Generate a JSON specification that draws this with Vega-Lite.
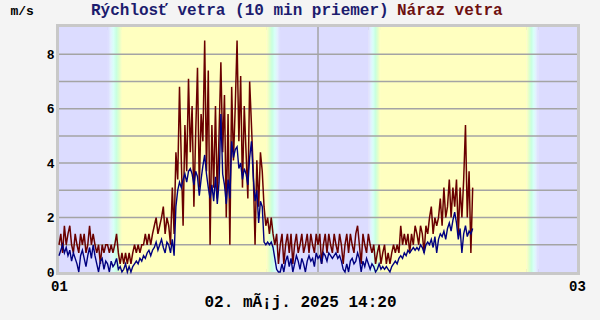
{
"$schema": "https://vega.github.io/schema/vega-lite/v6.json",
"width": 518, "height": 245,
"autosize": {"type": "none"},
"padding": {"left": 59, "top": 27, "right": 23, "bottom": 48},
"background": "#F4F4F4",
"config": {
 "view": {"stroke": "#C8C8C8", "strokeWidth": 6},
 "axis": {"labelFont": "Liberation Mono", "labelFontWeight": "bold", "labelColor": "#000000", "titleFont": "Liberation Mono", "titleFontWeight": "bold", "titleColor": "#000000", "grid": false, "ticks": false, "domain": false, "labelPadding": 5}
},
"datasets": {
"b": [
{"a":0,"b":272,"k":"n"},{"a":350,"b":1155,"k":"d"},{"a":1229,"b":1720,"k":"n"},{"a":1785,"b":2600,"k":"d"},{"a":2665,"b":2880,"k":"n"},
{"a":272,"b":350,"k":"r"},{"a":1720,"b":1785,"k":"r"},{"a":1155,"b":1229,"k":"s"},{"a":2600,"b":2665,"k":"s"}
],
"gr": [{"v":1},{"v":2},{"v":3},{"v":4},{"v":5},{"v":6},{"v":7},{"v":8}],
"vl": [{"t":1440}],
"w": [
{"t":0,"g":1.0,"m":0.6},{"t":10,"g":1.4,"m":0.8},{"t":20,"g":0.7,"m":1.0},{"t":30,"g":1.7,"m":0.7},{"t":40,"g":1.0,"m":0.9},
{"t":50,"g":1.4,"m":0.6},{"t":60,"g":1.7,"m":0.8},{"t":70,"g":1.0,"m":0.4},{"t":80,"g":0.7,"m":0.7},{"t":90,"g":1.4,"m":0.5},
{"t":100,"g":1.0,"m":0.3},{"t":110,"g":0.7,"m":0.0},{"t":120,"g":1.4,"m":0.6},{"t":130,"g":1.0,"m":0.8},{"t":140,"g":1.4,"m":0.5},
{"t":150,"g":0.7,"m":0.2},{"t":160,"g":1.0,"m":0.6},{"t":170,"g":1.7,"m":0.9},{"t":180,"g":1.0,"m":0.5},{"t":190,"g":1.4,"m":1.0},
{"t":200,"g":1.0,"m":0.6},{"t":210,"g":0.7,"m":0.3},{"t":220,"g":1.0,"m":0.0},{"t":230,"g":0.3,"m":0.4},{"t":240,"g":1.0,"m":0.5},
{"t":250,"g":0.7,"m":0.1},{"t":260,"g":1.0,"m":0.4},{"t":270,"g":1.0,"m":0.3},{"t":280,"g":0.7,"m":0.0},{"t":290,"g":1.0,"m":0.4},
{"t":300,"g":0.7,"m":0.2},{"t":310,"g":1.0,"m":0.3},{"t":320,"g":1.4,"m":0.5},{"t":330,"g":0.7,"m":0.1},{"t":340,"g":0.3,"m":0.2},
{"t":350,"g":0.7,"m":0.0},{"t":360,"g":0.3,"m":0.1},{"t":370,"g":0.7,"m":0.3},{"t":380,"g":0.3,"m":0.0},{"t":390,"g":0.7,"m":0.2},
{"t":400,"g":0.3,"m":0.0},{"t":410,"g":0.7,"m":0.2},{"t":420,"g":1.0,"m":0.3},{"t":430,"g":0.7,"m":0.4},{"t":440,"g":1.0,"m":0.3},
{"t":450,"g":0.7,"m":0.5},{"t":460,"g":1.0,"m":0.4},{"t":470,"g":1.0,"m":0.6},{"t":480,"g":1.4,"m":0.5},{"t":490,"g":1.0,"m":0.7},
{"t":500,"g":1.4,"m":0.8},{"t":510,"g":1.0,"m":0.6},{"t":520,"g":1.4,"m":0.8},{"t":530,"g":1.7,"m":0.9},{"t":540,"g":2.0,"m":1.1},
{"t":550,"g":1.4,"m":0.8},{"t":560,"g":1.7,"m":1.0},{"t":570,"g":2.0,"m":1.2},{"t":580,"g":2.4,"m":0.9},{"t":590,"g":1.4,"m":0.7},
{"t":600,"g":2.0,"m":1.1},{"t":610,"g":1.7,"m":1.0},{"t":620,"g":1.0,"m":0.7},{"t":630,"g":3.1,"m":1.2},{"t":640,"g":1.4,"m":0.6},
{"t":650,"g":4.4,"m":2.4},{"t":660,"g":3.4,"m":3.0},{"t":670,"g":6.8,"m":3.3},{"t":680,"g":4.1,"m":3.1},{"t":690,"g":1.7,"m":3.4},
{"t":700,"g":5.4,"m":3.6},{"t":710,"g":3.7,"m":3.3},{"t":720,"g":7.1,"m":3.7},{"t":730,"g":4.4,"m":3.8},{"t":740,"g":6.1,"m":3.6},
{"t":750,"g":2.4,"m":3.2},{"t":760,"g":5.1,"m":3.7},{"t":770,"g":7.5,"m":3.5},{"t":780,"g":3.1,"m":2.8},{"t":790,"g":5.8,"m":3.4},
{"t":800,"g":4.8,"m":3.9},{"t":810,"g":8.5,"m":4.3},{"t":820,"g":3.7,"m":3.6},{"t":830,"g":7.4,"m":3.1},{"t":840,"g":1.0,"m":2.7},
{"t":850,"g":5.4,"m":3.2},{"t":860,"g":3.1,"m":2.6},{"t":870,"g":6.1,"m":3.5},{"t":880,"g":2.7,"m":2.5},{"t":890,"g":5.1,"m":3.3},
{"t":900,"g":7.7,"m":5.8},{"t":910,"g":4.4,"m":3.6},{"t":920,"g":6.5,"m":3.2},{"t":930,"g":2.0,"m":2.5},{"t":940,"g":5.8,"m":3.4},
{"t":950,"g":1.0,"m":2.7},{"t":960,"g":6.8,"m":4.8},{"t":970,"g":4.1,"m":4.2},{"t":980,"g":6.1,"m":4.5},{"t":990,"g":8.5,"m":4.6},
{"t":1000,"g":4.8,"m":3.8},{"t":1010,"g":7.2,"m":4.0},{"t":1020,"g":3.1,"m":3.4},{"t":1030,"g":6.1,"m":3.8},{"t":1040,"g":4.4,"m":3.6},
{"t":1050,"g":2.7,"m":3.2},{"t":1060,"g":7.0,"m":4.2},{"t":1070,"g":5.4,"m":4.8},{"t":1080,"g":3.7,"m":3.5},{"t":1090,"g":1.0,"m":2.6},
{"t":1100,"g":4.1,"m":3.0},{"t":1110,"g":2.4,"m":1.8},{"t":1120,"g":4.4,"m":2.6},{"t":1130,"g":3.7,"m":2.4},{"t":1140,"g":2.4,"m":1.1},
{"t":1150,"g":1.7,"m":1.0},{"t":1160,"g":2.0,"m":1.1},{"t":1170,"g":1.4,"m":1.0},{"t":1180,"g":2.0,"m":1.1},{"t":1190,"g":1.4,"m":0.9},
{"t":1200,"g":1.0,"m":0.5},{"t":1210,"g":1.4,"m":0.1},{"t":1220,"g":0.3,"m":0.0},{"t":1230,"g":1.0,"m":0.0},{"t":1240,"g":1.4,"m":0.3},
{"t":1250,"g":0.3,"m":0.0},{"t":1260,"g":1.0,"m":0.4},{"t":1270,"g":1.4,"m":0.6},{"t":1280,"g":0.7,"m":0.2},{"t":1290,"g":1.4,"m":0.5},
{"t":1300,"g":0.3,"m":0.0},{"t":1310,"g":1.0,"m":0.3},{"t":1320,"g":1.4,"m":0.6},{"t":1330,"g":0.7,"m":0.4},{"t":1340,"g":1.0,"m":0.1},
{"t":1350,"g":1.4,"m":0.5},{"t":1360,"g":0.7,"m":0.3},{"t":1370,"g":1.0,"m":0.0},{"t":1380,"g":1.4,"m":0.4},{"t":1390,"g":0.7,"m":0.6},
{"t":1400,"g":1.4,"m":0.4},{"t":1410,"g":1.0,"m":0.5},{"t":1420,"g":0.7,"m":0.2},{"t":1430,"g":1.4,"m":0.7},{"t":1440,"g":1.0,"m":0.5},
{"t":1450,"g":1.4,"m":0.6},{"t":1460,"g":0.3,"m":0.3},{"t":1470,"g":1.0,"m":0.7},{"t":1480,"g":1.4,"m":0.6},{"t":1490,"g":0.7,"m":0.4},
{"t":1500,"g":1.4,"m":0.7},{"t":1510,"g":1.0,"m":0.6},{"t":1520,"g":0.7,"m":0.5},{"t":1530,"g":1.4,"m":0.6},{"t":1540,"g":1.0,"m":0.7},
{"t":1550,"g":0.7,"m":0.5},{"t":1560,"g":1.4,"m":0.6},{"t":1570,"g":1.0,"m":0.4},{"t":1580,"g":0.3,"m":0.1},{"t":1590,"g":1.0,"m":0.0},
{"t":1600,"g":1.4,"m":0.3},{"t":1610,"g":0.7,"m":0.0},{"t":1620,"g":1.4,"m":0.4},{"t":1630,"g":1.0,"m":0.5},{"t":1640,"g":0.7,"m":0.3},
{"t":1650,"g":1.4,"m":0.4},{"t":1660,"g":1.7,"m":0.7},{"t":1670,"g":1.0,"m":0.5},{"t":1680,"g":0.3,"m":0.0},{"t":1690,"g":1.4,"m":0.4},
{"t":1700,"g":1.0,"m":0.2},{"t":1710,"g":0.7,"m":0.5},{"t":1720,"g":1.4,"m":0.3},{"t":1730,"g":1.0,"m":0.1},{"t":1740,"g":0.7,"m":0.3},
{"t":1750,"g":1.0,"m":0.2},{"t":1760,"g":0.3,"m":0.0},{"t":1770,"g":0.7,"m":0.1},{"t":1780,"g":1.0,"m":0.3},{"t":1790,"g":0.3,"m":0.1},
{"t":1800,"g":0.7,"m":0.2},{"t":1810,"g":1.0,"m":0.1},{"t":1820,"g":0.3,"m":0.2},{"t":1830,"g":0.7,"m":0.1},{"t":1840,"g":0.3,"m":0.0},
{"t":1850,"g":0.7,"m":0.2},{"t":1860,"g":1.0,"m":0.3},{"t":1870,"g":0.7,"m":0.4},{"t":1880,"g":1.0,"m":0.3},{"t":1890,"g":0.7,"m":0.5},
{"t":1900,"g":1.7,"m":0.6},{"t":1910,"g":1.0,"m":0.5},{"t":1920,"g":1.4,"m":0.7},{"t":1930,"g":1.0,"m":0.6},{"t":1940,"g":1.4,"m":0.8},
{"t":1950,"g":0.7,"m":0.7},{"t":1960,"g":1.4,"m":0.8},{"t":1970,"g":1.0,"m":0.9},{"t":1980,"g":1.7,"m":0.8},{"t":1990,"g":1.4,"m":0.9},
{"t":2000,"g":1.0,"m":0.8},{"t":2010,"g":1.7,"m":1.0},{"t":2020,"g":1.4,"m":0.9},{"t":2030,"g":0.7,"m":0.7},{"t":2040,"g":1.7,"m":1.0},
{"t":2050,"g":1.4,"m":1.1},{"t":2060,"g":2.0,"m":1.0},{"t":2070,"g":2.4,"m":1.2},{"t":2080,"g":1.4,"m":0.9},{"t":2090,"g":2.0,"m":1.3},
{"t":2100,"g":1.7,"m":0.7},{"t":2110,"g":2.0,"m":1.2},{"t":2120,"g":2.7,"m":1.4},{"t":2130,"g":1.7,"m":1.3},{"t":2140,"g":3.1,"m":1.5},
{"t":2150,"g":2.0,"m":1.2},{"t":2160,"g":2.4,"m":1.6},{"t":2170,"g":3.4,"m":1.8},{"t":2180,"g":2.0,"m":1.5},{"t":2190,"g":3.1,"m":1.9},
{"t":2200,"g":2.4,"m":2.2},{"t":2210,"g":3.4,"m":1.8},{"t":2220,"g":1.4,"m":1.2},{"t":2230,"g":3.1,"m":1.6},{"t":2240,"g":2.0,"m":0.7},
{"t":2250,"g":3.4,"m":1.4},{"t":2260,"g":5.4,"m":1.7},{"t":2270,"g":2.0,"m":1.3},{"t":2280,"g":3.7,"m":1.5},{"t":2290,"g":0.7,"m":1.4},
{"t":2300,"g":3.1,"m":1.6}
]
},
"layer": [
{"data": {"name": "b"}, "transform": [{"filter": "datum.k == 'n' || datum.k == 'd'"}],
 "mark": {"type": "rect"},
 "encoding": {
  "x": {"field": "a", "type": "quantitative", "scale": {"domain": [0, 2880], "nice": false, "zero": false},
   "axis": {"values": [0, 2880], "labelExpr": "datum.value == 0 ? '01' : '03'", "labelFlush": false, "labelFontSize": 14, "labelBaseline": "top", "labelPadding": 7,
    "title": "02. mÃ¡j. 2025 14:20", "titleFontSize": 16, "titleX": 241, "titleY": 34, "titleAlign": "center", "titleBaseline": "alphabetic"}},
  "x2": {"field": "b"},
  "fill": {"field": "k", "type": "nominal", "scale": {"domain": ["n", "d"], "range": ["#DCDCFF", "#FFFFC0"]}, "legend": null}
 }},
{"data": {"name": "b"}, "transform": [{"filter": "datum.k == 'r'"}],
 "mark": {"type": "rect", "fill": {"gradient": "linear", "x1": 0, "x2": 1, "y1": 0, "y2": 0, "stops": [
  {"offset": 0, "color": "#DCDCFF"}, {"offset": 0.2, "color": "#E4F0FF"}, {"offset": 0.4, "color": "#D8FFF8"},
  {"offset": 0.6, "color": "#C8FFE0"}, {"offset": 0.8, "color": "#E0FFCC"}, {"offset": 1, "color": "#FFFFC0"}]}},
 "encoding": {
  "x": {"field": "a", "type": "quantitative",
   "axis": {"values": [0, 2880], "labelExpr": "datum.value == 0 ? '01' : '03'", "labelFlush": false, "labelFontSize": 14, "labelBaseline": "top", "labelPadding": 7,
    "title": "02. mÃ¡j. 2025 14:20", "titleFontSize": 16, "titleX": 241, "titleY": 34, "titleAlign": "center", "titleBaseline": "alphabetic"}},
  "x2": {"field": "b"}}},
{"data": {"name": "b"}, "transform": [{"filter": "datum.k == 's'"}],
 "mark": {"type": "rect", "fill": {"gradient": "linear", "x1": 0, "x2": 1, "y1": 0, "y2": 0, "stops": [
  {"offset": 0, "color": "#FFFFC0"}, {"offset": 0.2, "color": "#E0FFCC"}, {"offset": 0.4, "color": "#C8FFE0"},
  {"offset": 0.6, "color": "#D8FFF8"}, {"offset": 0.8, "color": "#E4F0FF"}, {"offset": 1, "color": "#DCDCFF"}]}},
 "encoding": {
  "x": {"field": "a", "type": "quantitative",
   "axis": {"values": [0, 2880], "labelExpr": "datum.value == 0 ? '01' : '03'", "labelFlush": false, "labelFontSize": 14, "labelBaseline": "top", "labelPadding": 7,
    "title": "02. mÃ¡j. 2025 14:20", "titleFontSize": 16, "titleX": 241, "titleY": 34, "titleAlign": "center", "titleBaseline": "alphabetic"}},
  "x2": {"field": "b"}}},
{"data": {"name": "gr"},
 "mark": {"type": "rule", "color": "#A4A4A4", "strokeWidth": 1.5},
 "encoding": {
  "y": {"field": "v", "type": "quantitative", "scale": {"domain": [0, 9], "nice": false},
   "axis": {"values": [0, 2, 4, 6, 8], "format": "d", "labelFontSize": 13,
    "title": "m/s", "titleFontSize": 13, "titleAngle": 0, "titleX": -49, "titleY": -13, "titleAlign": "left", "titleBaseline": "alphabetic"}}
 }},
{"data": {"name": "vl"},
 "mark": {"type": "rule", "color": "#A4A4A4", "strokeWidth": 1.5},
 "encoding": {
  "x": {"field": "t", "type": "quantitative",
   "axis": {"values": [0, 2880], "labelExpr": "datum.value == 0 ? '01' : '03'", "labelFlush": false, "labelFontSize": 14, "labelBaseline": "top", "labelPadding": 7,
    "title": "02. mÃ¡j. 2025 14:20", "titleFontSize": 16, "titleX": 241, "titleY": 34, "titleAlign": "center", "titleBaseline": "alphabetic"}}}},
{"data": {"name": "w"},
 "mark": {"type": "line", "strokeWidth": 1.5},
 "encoding": {
  "x": {"field": "t", "type": "quantitative",
   "axis": {"values": [0, 2880], "labelExpr": "datum.value == 0 ? '01' : '03'", "labelFlush": false, "labelFontSize": 14, "labelBaseline": "top", "labelPadding": 7,
    "title": "02. mÃ¡j. 2025 14:20", "titleFontSize": 16, "titleX": 241, "titleY": 34, "titleAlign": "center", "titleBaseline": "alphabetic"}},
  "y": {"field": "g", "type": "quantitative",
   "axis": {"values": [0, 2, 4, 6, 8], "format": "d", "labelFontSize": 13,
    "title": "m/s", "titleFontSize": 13, "titleAngle": 0, "titleX": -49, "titleY": -13, "titleAlign": "left", "titleBaseline": "alphabetic"}},
  "stroke": {"datum": "Náraz vetra", "type": "nominal",
   "scale": {"domain": ["Rýchlosť vetra (10 min priemer)", "Náraz vetra"], "range": ["#000080", "#6A0000"]},
   "legend": {"orient": "none", "legendX": 24, "legendY": -25, "direction": "horizontal", "title": null,
    "symbolSize": 0, "symbolStrokeWidth": 0, "symbolOpacity": 0, "labelOffset": -8, "columnPadding": 0, "padding": 0,
    "labelFont": "Liberation Mono", "labelFontSize": 16, "labelFontWeight": "bold", "labelLimit": 600,
    "labelColor": {"expr": "datum.value == 'Náraz vetra' ? '#6E1010' : '#1C1C6E'"}}}
 }},
{"data": {"name": "w"},
 "mark": {"type": "line", "strokeWidth": 1.4},
 "encoding": {
  "x": {"field": "t", "type": "quantitative",
   "axis": {"values": [0, 2880], "labelExpr": "datum.value == 0 ? '01' : '03'", "labelFlush": false, "labelFontSize": 14, "labelBaseline": "top", "labelPadding": 7,
    "title": "02. mÃ¡j. 2025 14:20", "titleFontSize": 16, "titleX": 241, "titleY": 34, "titleAlign": "center", "titleBaseline": "alphabetic"}},
  "y": {"field": "m", "type": "quantitative",
   "axis": {"values": [0, 2, 4, 6, 8], "format": "d", "labelFontSize": 13,
    "title": "m/s", "titleFontSize": 13, "titleAngle": 0, "titleX": -49, "titleY": -13, "titleAlign": "left", "titleBaseline": "alphabetic"}},
  "stroke": {"datum": "Rýchlosť vetra (10 min priemer)", "type": "nominal"}
 }}
]
}
